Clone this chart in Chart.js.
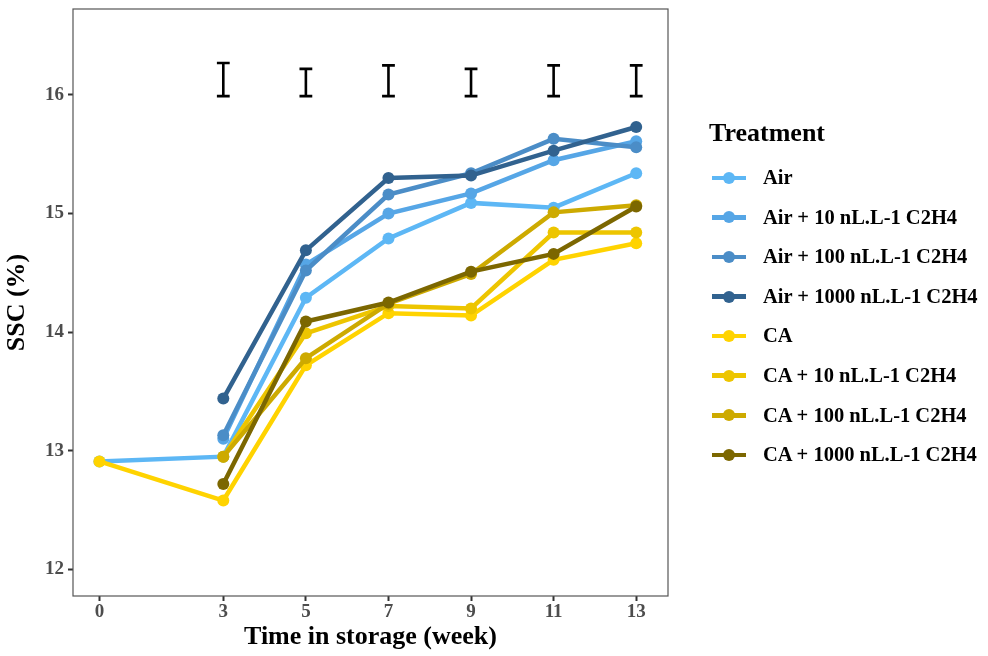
<!DOCTYPE html>
<html>
<head>
<meta charset="utf-8">
<script src="https://cdn.jsdelivr.net/npm/chart.js@4/dist/chart.umd.min.js"></script>
<style>
  html, body { margin: 0; padding: 0; background: #ffffff; }
  #wrap { position: relative; width: 988px; height: 656px; }
  #c { position: absolute; left: 0; top: 0; }
  #legend { position: absolute; left: 709px; top: 116px; font-family: "Liberation Serif", "Times New Roman", serif; font-weight: bold; color: #000; }
  #legend .ttl { font-size: 26px; line-height: 34px; height: 42px; }
  #legend .row { position: relative; height: 39.6px; line-height: 39.6px; font-size: 20.5px; white-space: nowrap; }
  #legend .sym { position: absolute; left: 3px; top: 17.5px; width: 34px; height: 4.5px; }
  #legend .dot { position: absolute; left: 11px; top: -3.75px; width: 12px; height: 12px; border-radius: 50%; }
  #legend .lab { position: absolute; left: 54px; top: 0; }
</style>
</head>
<body>
<div id="wrap">
  <canvas id="c" width="988" height="656"></canvas>
  <div id="legend"></div>
</div>
<script>
// ---- data ----
const weeks = [0, 3, 5, 7, 9, 11, 13];
const seriesNames = [
  "Air",
  "Air + 10 nL.L-1 C2H4",
  "Air + 100 nL.L-1 C2H4",
  "Air + 1000 nL.L-1 C2H4",
  "CA",
  "CA + 10 nL.L-1 C2H4",
  "CA + 100 nL.L-1 C2H4",
  "CA + 1000 nL.L-1 C2H4"
];
const air     = [12.91, 12.95, 14.29, 14.79, 15.09, 15.05, 15.34];
const air10   = [null, 13.10, 14.57, 15.00, 15.17, 15.45, 15.61];
const air100  = [null, 13.13, 14.52, 15.16, 15.34, 15.63, 15.56];
const air1000 = [null, 13.44, 14.69, 15.30, 15.32, 15.53, 15.73];
const ca      = [12.91, 12.58, 13.72, 14.16, 14.14, 14.61, 14.75];
const ca10    = [null, 12.95, 13.99, 14.22, 14.20, 14.84, 14.84];
const ca100   = [null, 12.95, 13.78, 14.24, 14.49, 15.01, 15.07];
const ca1000  = [null, 12.72, 14.09, 14.25, 14.51, 14.66, 15.06];
const errWeeks = [3, 5, 7, 9, 11, 13];
const errLow   = [15.99, 15.99, 15.99, 15.99, 15.99, 15.99];
const errHigh  = [16.27, 16.22, 16.25, 16.22, 16.25, 16.25];
const yTicks = [12, 13, 14, 15, 16];
const xTicks = [0, 3, 5, 7, 9, 11, 13];

const seriesValues = [air, air10, air100, air1000, ca, ca10, ca100, ca1000];
const colors = ["#5DB7F5", "#56A6E6", "#4B8DC7", "#31628F", "#FFD300", "#EDC500", "#CDAA00", "#7C6700"];

const datasets = seriesValues.map((vals, i) => ({
  label: seriesNames[i],
  data: weeks.map((w, j) => vals[j] === null ? null : { x: w, y: vals[j] }).filter(p => p !== null),
  borderColor: colors[i],
  backgroundColor: colors[i],
  pointBackgroundColor: colors[i],
  pointBorderWidth: 0,
  pointRadius: 6,
  pointHoverRadius: 6,
  borderWidth: 4.5,
  tension: 0,
  fill: false,
  order: seriesValues.length - i
}));

const FONT = "'Liberation Serif', 'Times New Roman', serif";

const frameAndErrors = {
  id: 'frameAndErrors',
  afterDatasetsDraw(chart) {
    const { ctx, chartArea, scales } = chart;
    ctx.save();
    ctx.strokeStyle = '#000';
    ctx.lineWidth = 2.6;
    ctx.lineCap = 'butt';
    const capHalf = scales.x.getPixelForValue(0.155) - scales.x.getPixelForValue(0);
    errWeeks.forEach((w, i) => {
      const x = scales.x.getPixelForValue(w);
      const yl = scales.y.getPixelForValue(errLow[i]);
      const yh = scales.y.getPixelForValue(errHigh[i]);
      ctx.beginPath();
      ctx.moveTo(x, yl); ctx.lineTo(x, yh);
      ctx.moveTo(x - capHalf, yl); ctx.lineTo(x + capHalf, yl);
      ctx.moveTo(x - capHalf, yh); ctx.lineTo(x + capHalf, yh);
      ctx.stroke();
    });
    ctx.strokeStyle = '#555';
    ctx.lineWidth = 1.2;
    ctx.strokeRect(chartArea.left, chartArea.top, chartArea.right - chartArea.left, chartArea.bottom - chartArea.top);
    ctx.restore();
  }
};

new Chart(document.getElementById('c'), {
  type: 'line',
  data: { datasets },
  plugins: [frameAndErrors],
  options: {
    responsive: false,
    animation: false,
    events: [],
    layout: { autoPadding: false, padding: { top: 9, right: 320, left: 0, bottom: 0 } },
    plugins: { legend: { display: false }, tooltip: { enabled: false } },
    scales: {
      x: {
        type: 'linear',
        min: -0.64,
        max: 13.77,
        afterBuildTicks: (s) => { s.ticks = xTicks.map(v => ({ value: v })); },
        afterFit: (s) => { s.height = 60; s.paddingLeft = 0; s.paddingRight = 0; },
        grid: { drawOnChartArea: false, drawTicks: true, tickLength: 5, tickWidth: 2, tickColor: '#333' },
        border: { display: false },
        ticks: { color: '#4d4d4d', font: { family: FONT, size: 19, weight: 'bold' }, padding: 0, maxRotation: 0, autoSkip: false },
        title: { display: true, text: 'Time in storage (week)', color: '#000', font: { family: FONT, size: 26, weight: 'bold' }, padding: { top: 0, bottom: 3 } }
      },
      y: {
        type: 'linear',
        min: 11.775,
        max: 16.725,
        afterBuildTicks: (s) => { s.ticks = yTicks.map(v => ({ value: v })); },
        afterFit: (s) => { s.width = 73; s.paddingTop = 0; s.paddingBottom = 0; },
        grid: { drawOnChartArea: false, drawTicks: true, tickLength: 5, tickWidth: 2, tickColor: '#333' },
        border: { display: false },
        ticks: { color: '#4d4d4d', font: { family: FONT, size: 19, weight: 'bold' }, padding: 4 },
        title: { display: true, text: 'SSC (%)', color: '#000', font: { family: FONT, size: 26, weight: 'bold' }, padding: { top: 2, bottom: 4 } }
      }
    }
  }
});

// HTML legend
const leg = document.getElementById('legend');
const t = document.createElement('div');
t.className = 'ttl';
t.textContent = 'Treatment';
leg.appendChild(t);
seriesNames.forEach((name, i) => {
  const row = document.createElement('div');
  row.className = 'row';
  const sym = document.createElement('div');
  sym.className = 'sym';
  sym.style.background = colors[i];
  const dot = document.createElement('div');
  dot.className = 'dot';
  dot.style.background = colors[i];
  sym.appendChild(dot);
  const lab = document.createElement('span');
  lab.className = 'lab';
  lab.textContent = name;
  row.appendChild(sym);
  row.appendChild(lab);
  leg.appendChild(row);
});
</script>
</body>
</html>
